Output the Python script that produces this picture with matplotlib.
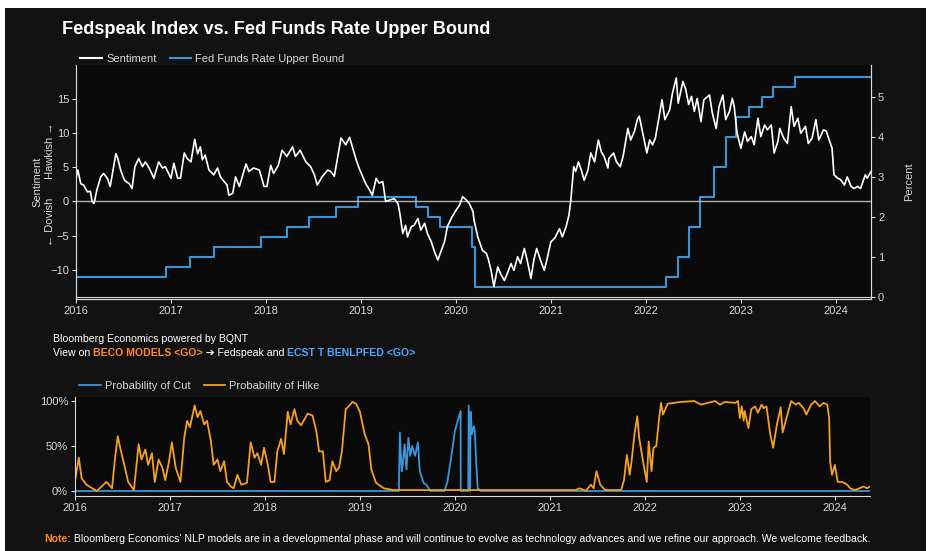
import matplotlib
matplotlib.use("Agg")
import matplotlib.pyplot as plt
from matplotlib.patches import Rectangle

plt.rcParams['font.family'] = ['Liberation Sans', 'DejaVu Sans']

# Sentiment index (decimal year, value)
sent_t = [2016.00, 2016.02, 2016.05, 2016.08, 2016.12, 2016.15, 2016.17, 2016.19, 2016.22, 2016.26,
          2016.29, 2016.33, 2016.36, 2016.39, 2016.42, 2016.44, 2016.47, 2016.51, 2016.56, 2016.59,
          2016.62, 2016.66, 2016.70, 2016.73, 2016.77, 2016.82, 2016.87, 2016.91, 2016.94, 2017.00,
          2017.03, 2017.07, 2017.10, 2017.14, 2017.17, 2017.21, 2017.25, 2017.28, 2017.31, 2017.33,
          2017.36, 2017.40, 2017.45, 2017.49, 2017.52, 2017.56, 2017.59, 2017.61, 2017.65, 2017.68,
          2017.72, 2017.75, 2017.79, 2017.82, 2017.87, 2017.93, 2017.98, 2018.01, 2018.05, 2018.08,
          2018.13, 2018.17, 2018.22, 2018.28, 2018.31, 2018.36, 2018.42, 2018.47, 2018.51, 2018.54,
          2018.59, 2018.65, 2018.68, 2018.72, 2018.75, 2018.79, 2018.84, 2018.88, 2018.91, 2018.95,
          2018.98, 2019.02, 2019.05, 2019.09, 2019.12, 2019.16, 2019.19, 2019.23, 2019.26, 2019.30,
          2019.35, 2019.39, 2019.41, 2019.44, 2019.47, 2019.49, 2019.53, 2019.56, 2019.60, 2019.63,
          2019.67, 2019.70, 2019.74, 2019.77, 2019.81, 2019.84, 2019.88, 2019.91, 2019.95, 2020.00,
          2020.04, 2020.07, 2020.11, 2020.14, 2020.18, 2020.19, 2020.23, 2020.26, 2020.28, 2020.32,
          2020.34, 2020.37, 2020.40, 2020.44, 2020.47, 2020.51, 2020.54, 2020.58, 2020.61, 2020.65,
          2020.68, 2020.72, 2020.75, 2020.79, 2020.82, 2020.85, 2020.89, 2020.93, 2020.96, 2021.00,
          2021.04, 2021.09, 2021.12, 2021.16, 2021.19, 2021.21, 2021.24, 2021.26, 2021.29, 2021.32,
          2021.35, 2021.39, 2021.42, 2021.46, 2021.50, 2021.53, 2021.56, 2021.60, 2021.61, 2021.66,
          2021.69, 2021.73, 2021.76, 2021.81, 2021.84, 2021.88, 2021.91, 2021.93, 2021.96, 2022.01,
          2022.04, 2022.07, 2022.10, 2022.13, 2022.17, 2022.20, 2022.25, 2022.28, 2022.32, 2022.34,
          2022.39, 2022.42, 2022.45, 2022.48, 2022.51, 2022.54, 2022.58, 2022.61, 2022.67, 2022.70,
          2022.74, 2022.77, 2022.81, 2022.84, 2022.88, 2022.91, 2022.93, 2022.96, 2023.00, 2023.04,
          2023.07, 2023.11, 2023.14, 2023.18, 2023.21, 2023.25, 2023.28, 2023.32, 2023.35, 2023.39,
          2023.41, 2023.45, 2023.49, 2023.53, 2023.56, 2023.60, 2023.63, 2023.68, 2023.71, 2023.75,
          2023.79, 2023.82, 2023.87, 2023.90, 2023.93, 2023.96, 2023.98, 2024.02, 2024.05, 2024.09,
          2024.12, 2024.16, 2024.19, 2024.23, 2024.26, 2024.31, 2024.33, 2024.37]
sent_v = [3.4, 4.6, 2.6, 2.4, 1.4, 1.5, 0.0, -0.3, 1.7, 3.6,
          4.1, 3.4, 2.2, 4.6, 7.0, 6.3, 4.6, 3.1, 2.6, 1.9,
          5.1, 6.3, 5.1, 5.8, 4.9, 3.4, 5.8, 4.9, 5.1, 3.4,
          5.6, 3.4, 3.4, 7.1, 6.3, 5.8, 9.1, 7.0, 8.0, 6.1,
          6.8, 4.6, 3.9, 4.9, 3.6, 2.9, 2.4, 0.9, 1.2, 3.6,
          2.2, 3.6, 5.5, 4.4, 4.9, 4.6, 2.2, 2.2, 5.3, 4.1,
          5.3, 7.5, 6.6, 8.0, 6.6, 7.5, 5.8, 5.1, 3.9, 2.4,
          3.6, 4.6, 4.4, 3.7, 6.1, 9.3, 8.3, 9.4, 8.0, 6.1,
          4.9, 3.6, 2.6, 1.7, 0.9, 3.4, 2.7, 2.9, 0.0, 0.2,
          0.4, -0.3, -1.8, -4.7, -3.5, -5.2, -3.7, -3.5, -2.5, -4.2,
          -3.2, -4.7, -5.9, -7.2, -8.6, -7.4, -5.9, -3.7, -2.5, -1.3,
          -0.5, 0.7, 0.2, -0.3, -1.5, -2.7, -5.2, -6.4, -7.2, -7.6,
          -8.4, -10.1, -12.5, -9.6, -10.6, -11.6, -10.6, -9.1, -10.1, -8.1,
          -9.1, -6.9, -8.6, -11.3, -8.6, -6.9, -8.6, -10.1, -8.4, -5.9,
          -5.4, -4.0, -5.2, -3.7, -2.0, 0.2, 5.1, 4.4, 5.8, 4.6,
          3.1, 4.6, 7.1, 5.8, 9.0, 7.3, 6.6, 4.9, 6.3, 7.1,
          5.8, 5.1, 6.6, 10.7, 9.0, 10.3, 12.0, 12.5, 10.5, 7.1,
          9.0, 8.3, 9.3, 11.7, 14.9, 12.0, 13.4, 15.9, 18.1, 14.4,
          17.6, 16.4, 14.2, 15.4, 13.2, 15.1, 11.7, 14.9, 15.6, 12.9,
          10.7, 13.9, 15.6, 12.0, 13.2, 15.1, 13.9, 10.0, 7.8, 10.2,
          8.8, 9.5, 8.3, 12.2, 9.5, 11.2, 10.5, 11.2, 7.1, 8.8,
          10.7, 9.3, 8.5, 13.9, 11.0, 12.2, 10.0, 11.0, 8.5, 9.3,
          12.0, 9.0, 10.5, 10.3, 9.0, 7.8, 3.9, 3.4, 3.2, 2.4,
          3.6, 2.2, 1.9, 2.2, 1.9, 3.9, 3.4, 4.4]

# Fed funds rate upper bound, changes (decimal year, percent)
ffr_t = [2016.00, 2016.95, 2017.20, 2017.45, 2017.95, 2018.22, 2018.45, 2018.74, 2018.97,
         2019.58, 2019.71, 2019.83, 2020.17, 2020.20, 2022.21, 2022.34, 2022.45, 2022.57,
         2022.72, 2022.84, 2022.95, 2023.09, 2023.22, 2023.34, 2023.57, 2024.37]
ffr_v = [0.50, 0.75, 1.00, 1.25, 1.50, 1.75, 2.00, 2.25, 2.50,
         2.25, 2.00, 1.75, 1.25, 0.25, 0.50, 1.00, 1.75, 2.50,
         3.25, 4.00, 4.50, 4.75, 5.00, 5.25, 5.50, 5.50]

# Probability of hike
hike_t = [2016.00, 2016.04, 2016.07, 2016.12, 2016.18, 2016.23, 2016.30, 2016.33, 2016.39, 2016.42,
          2016.45, 2016.48, 2016.51, 2016.56, 2016.62, 2016.67, 2016.70, 2016.74, 2016.77, 2016.81,
          2016.84, 2016.88, 2016.92, 2016.95, 2016.99, 2017.02, 2017.06, 2017.11, 2017.15, 2017.18,
          2017.21, 2017.26, 2017.29, 2017.32, 2017.36, 2017.39, 2017.43, 2017.46, 2017.50, 2017.53,
          2017.57, 2017.60, 2017.64, 2017.67, 2017.71, 2017.75, 2017.81, 2017.85, 2017.89, 2017.92,
          2017.96, 2017.99, 2018.03, 2018.06, 2018.10, 2018.13, 2018.17, 2018.20, 2018.24, 2018.27,
          2018.31, 2018.34, 2018.38, 2018.45, 2018.50, 2018.54, 2018.57, 2018.61, 2018.64, 2018.68,
          2018.71, 2018.75, 2018.78, 2018.81, 2018.85, 2018.89, 2018.92, 2018.96, 2019.00, 2019.05,
          2019.09, 2019.12, 2019.17, 2019.25, 2019.35, 2020.30, 2021.27, 2021.31, 2021.38, 2021.43,
          2021.46, 2021.49, 2021.53, 2021.58, 2021.75, 2021.78, 2021.81, 2021.84, 2021.86, 2021.89,
          2021.92, 2021.94, 2021.98, 2022.02, 2022.04, 2022.07, 2022.09, 2022.12, 2022.15, 2022.17,
          2022.19, 2022.24, 2022.38, 2022.52, 2022.59, 2022.74, 2022.79, 2022.84, 2022.95, 2022.98,
          2023.00, 2023.02, 2023.04, 2023.05, 2023.09, 2023.12, 2023.16, 2023.19, 2023.23, 2023.25,
          2023.28, 2023.32, 2023.35, 2023.39, 2023.43, 2023.45, 2023.49, 2023.54, 2023.59, 2023.62,
          2023.67, 2023.70, 2023.75, 2023.79, 2023.84, 2023.88, 2023.92, 2023.94, 2023.95, 2023.97,
          2024.00, 2024.03, 2024.08, 2024.13, 2024.16, 2024.21, 2024.26, 2024.30, 2024.34, 2024.37]
hike_v = [0.11, 0.37, 0.14, 0.07, 0.03, 0.00, 0.07, 0.10, 0.03, 0.35,
          0.61, 0.46, 0.33, 0.10, 0.01, 0.52, 0.35, 0.46, 0.29, 0.42,
          0.10, 0.35, 0.26, 0.12, 0.33, 0.54, 0.26, 0.10, 0.59, 0.78,
          0.71, 0.95, 0.82, 0.89, 0.74, 0.78, 0.56, 0.29, 0.35, 0.22,
          0.33, 0.10, 0.05, 0.03, 0.18, 0.07, 0.09, 0.54, 0.37, 0.42,
          0.29, 0.48, 0.29, 0.10, 0.10, 0.44, 0.58, 0.41, 0.88, 0.74,
          0.91, 0.78, 0.73, 0.86, 0.84, 0.67, 0.44, 0.44, 0.10, 0.12,
          0.33, 0.22, 0.26, 0.44, 0.91, 0.95, 0.99, 0.97, 0.88, 0.63,
          0.52, 0.24, 0.09, 0.03, 0.01, 0.01, 0.01, 0.03, 0.00, 0.07,
          0.03, 0.22, 0.07, 0.01, 0.01, 0.12, 0.40, 0.18, 0.33, 0.63,
          0.83, 0.59, 0.33, 0.10, 0.55, 0.22, 0.48, 0.50, 0.81, 0.98,
          0.85, 0.97, 0.99, 1.00, 0.96, 1.00, 0.96, 0.99, 0.98, 1.00,
          0.81, 0.94, 0.78, 0.89, 0.70, 0.91, 0.94, 0.87, 0.96, 0.92,
          0.94, 0.63, 0.48, 0.74, 0.93, 0.65, 0.81, 1.00, 0.96, 0.98,
          0.92, 0.85, 0.96, 1.00, 0.94, 0.98, 0.96, 0.81, 0.33, 0.18,
          0.29, 0.10, 0.10, 0.07, 0.03, 0.01, 0.03, 0.05, 0.03, 0.05]

# Probability of cut
cut_t = [2016.00, 2019.41, 2019.42, 2019.44, 2019.45, 2019.47, 2019.49, 2019.51, 2019.53, 2019.55,
         2019.58, 2019.61, 2019.63, 2019.67, 2019.70, 2019.74, 2019.89, 2019.92, 2019.96, 2020.00,
         2020.03, 2020.06, 2020.061, 2020.14, 2020.145, 2020.16, 2020.165, 2020.18, 2020.20, 2020.21,
         2020.225, 2020.24, 2020.27, 2020.29, 2024.37]
cut_v = [0.00, 0.00, 0.65, 0.22, 0.29, 0.52, 0.24, 0.59, 0.39, 0.50,
         0.39, 0.54, 0.22, 0.09, 0.07, 0.00, 0.00, 0.10, 0.37, 0.67,
         0.78, 0.89, 0.00, 0.00, 0.95, 0.00, 0.88, 0.63, 0.72, 0.65,
         0.29, 0.03, 0.00, 0.00, 0.00]

years = list(range(2016, 2025))

FG = '#d8d8d8'
BG = '#121212'
AXBG = '#0a0a0a'
BLUE = '#3a96d8'
ORANGE = '#f5a01e'

fig = plt.figure(figsize=(9.3, 5.51), dpi=100, facecolor='white')
fig.patches.append(Rectangle((5 / 930, 0), 921 / 930, 543 / 551, transform=fig.transFigure,
                             facecolor=BG, edgecolor='none', zorder=-10))


def style(ax):
    ax.set_facecolor(AXBG)
    for s in ax.spines.values():
        s.set_color(FG)
        s.set_linewidth(0.8)
    ax.tick_params(colors=FG, labelsize=8, length=3, width=0.8, pad=2)


legend_kw = dict(loc='lower left', ncol=2, frameon=False, fontsize=8, borderaxespad=0.0,
                 handlelength=1.9, handletextpad=0.4, columnspacing=1.2, labelcolor=FG)

# ---- upper chart
ax2 = fig.add_axes([76 / 930, 1 - 299 / 551, 795 / 930, 234 / 551])
ax = ax2.twinx()
style(ax2)
style(ax)
ax.patch.set_visible(False)
ax.yaxis.tick_left()
ax.yaxis.set_label_position('left')
ax2.yaxis.tick_right()
ax2.yaxis.set_label_position('right')
ax2.spines['top'].set_visible(False)
ax.spines['top'].set_visible(False)

ax2.plot(ffr_t, ffr_v, drawstyle='steps-post', color=BLUE, lw=1.5)
ax2.axhline(0, color=FG, lw=0.8)
ax2.set_ylim(-0.05, 5.8)
ax2.set_yticks([0, 1, 2, 3, 4, 5])
ax2.set_ylabel('Percent', color=FG, fontsize=8, labelpad=14)

ax.axhline(0, color='#b0b0b0', lw=1)
ax.plot(sent_t, sent_v, color='white', lw=1.2)
ax.set_ylim(-14.3, 20)
ax.set_yticks([-10, -5, 0, 5, 10, 15])
ax.set_yticklabels(['\u221210', '\u22125', '0', '5', '10', '15'])
ax.set_xlim(2016, 2024.37)
ax2.set_xlim(2016, 2024.37)
ax2.set_xticks(years)
ax2.set_xticklabels([str(y) for y in years])

fig.text(37 / 930, 1 - 182 / 551, 'Sentiment', rotation=90, color=FG, fontsize=8,
         ha='center', va='center')
fig.text(50 / 930, 1 - 184 / 551, '\u2190 Dovish      Hawkish \u2192', rotation=90, color=FG,
         fontsize=8, ha='center', va='center')

h1, = ax.plot([], [], color='white', lw=1.5, label='Sentiment')
h2, = ax.plot([], [], color=BLUE, lw=1.5, label='Fed Funds Rate Upper Bound')
ax.legend(handles=[h1, h2], bbox_to_anchor=(0.0, 0.985), **legend_kw)

fig.text(62 / 930, 1 - 30 / 551, 'Fedspeak Index vs. Fed Funds Rate Upper Bound',
         color='white', fontsize=13.1, fontweight='bold', va='center')

# ---- lower chart
bx = fig.add_axes([75 / 930, 1 - 496 / 551, 795 / 930, 99 / 551])
style(bx)
bx.spines['top'].set_visible(False)
bx.spines['right'].set_visible(False)
bx.plot(cut_t, cut_v, color=BLUE, lw=1.3, label='Probability of Cut')
bx.plot(hike_t, hike_v, color=ORANGE, lw=1.3, label='Probability of Hike')
bx.set_xlim(2016, 2024.37)
bx.set_ylim(-0.056, 1.045)
bx.set_yticks([0, 0.5, 1.0])
bx.set_yticklabels(['0%', '50%', '100%'])
bx.set_xticks(years)
bx.set_xticklabels([str(y) for y in years])
bx.legend(bbox_to_anchor=(0.0, 1.02), **legend_kw)

# ---- annotation lines
fig.canvas.draw()
renderer = fig.canvas.get_renderer()


def text_run(x_px, y_px, parts, size=8):
    x = x_px / 930
    for s, color, weight in parts:
        t = fig.text(x, 1 - y_px / 551, s, color=color, fontsize=size, fontweight=weight,
                     va='center', ha='left')
        x += t.get_window_extent(renderer=renderer).width / fig.bbox.width


text_run(53, 339, [('Bloomberg Economics powered by BQNT', 'white', 'normal')], size=7.6)
text_run(53, 353, [('View on ', 'white', 'normal'),
                   ('BECO MODELS <GO>', '#ff8c1a', 'bold'),
                   (' \u2794 Fedspeak and ', 'white', 'normal'),
                   ('ECST T BENLPFED <GO>', '#4da6ff', 'bold')], size=7.6)
text_run(44, 539, [('Note:', '#ff8c1a', 'bold'),
                   (" Bloomberg Economics' NLP models are in a developmental phase and will "
                    "continue to evolve as technology advances and we refine our approach. "
                    "We welcome feedback.", 'white', 'normal')], size=7.6)

fig.savefig('out.png', dpi=100, facecolor=fig.get_facecolor())
